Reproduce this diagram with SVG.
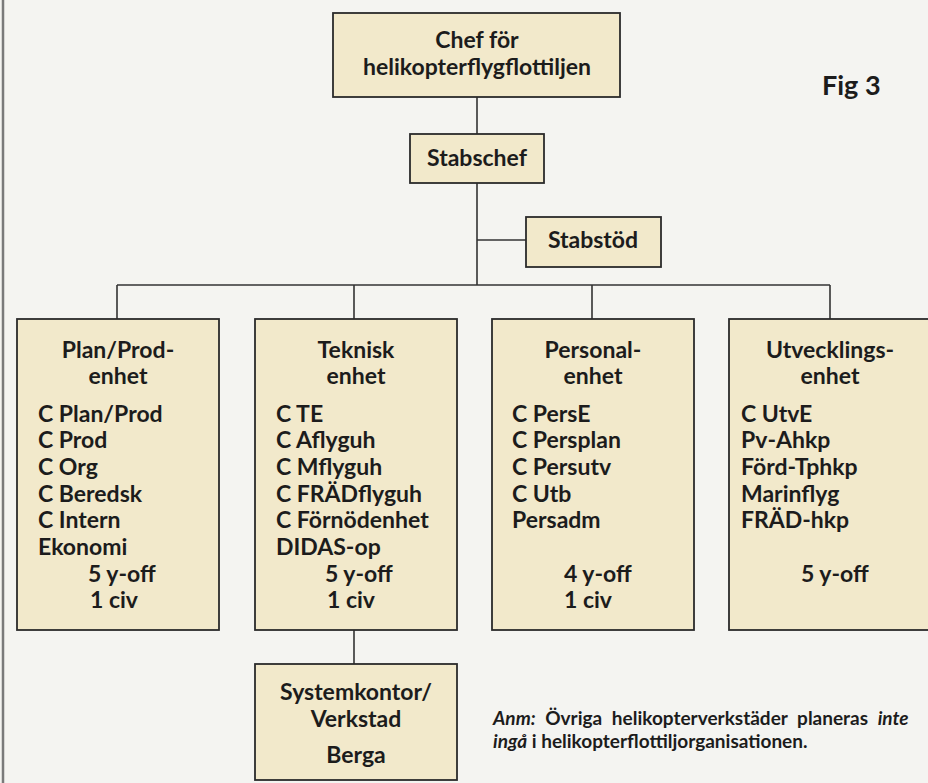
<svg xmlns="http://www.w3.org/2000/svg" width="928" height="783" viewBox="0 0 928 783">
<style>
.box{fill:#f2e9cb;stroke:#2b2b2b;stroke-width:1.8}
.conn line{stroke:#333;stroke-width:1.6}
text{font-family:Lato,"Open Sans","Liberation Sans",sans-serif;font-weight:bold;fill:#1c1c1c}
.t{font-size:23px}
.c{text-anchor:middle}
.big{font-size:23px}
.note{font-size:19px}
</style>
<rect x="0" y="0" width="928" height="783" fill="#f4f4f1"/>
<line x1="3" y1="0" x2="3" y2="783" stroke="#7a7a7a" stroke-width="2.5"/>
<g class="conn" id="connectors">
<line x1="477" y1="97" x2="477" y2="134"/>
<line x1="477" y1="183" x2="477" y2="285"/>
<line x1="477" y1="240" x2="526" y2="240"/>
<line x1="117" y1="285" x2="830" y2="285"/>
<line x1="117" y1="285" x2="117" y2="319"/>
<line x1="354" y1="285" x2="354" y2="319"/>
<line x1="592" y1="285" x2="592" y2="319"/>
<line x1="830" y1="285" x2="830" y2="319"/>
<line x1="354" y1="630" x2="354" y2="664"/>
</g>
<g id="chef">
<rect class="box" x="333" y="13" width="287" height="84"/>
<text class="big c" x="477" y="48">Chef för</text>
<text class="big c" x="477" y="75">helikopterflygflottiljen</text>
</g>
<g id="stabschef">
<rect class="box" x="410" y="134" width="134" height="49"/>
<text class="big c" x="477" y="166">Stabschef</text>
</g>
<g id="stabstod">
<rect class="box" x="526" y="217" width="135" height="50"/>
<text class="big c" x="593" y="248">Stabstöd</text>
</g>
<g id="planprod">
<rect class="box" x="17" y="319" width="202" height="311"/>
<text class="t c" x="118" y="358">Plan/Prod-</text>
<text class="t c" x="118" y="384">enhet</text>
<text class="t" x="38" y="422">C Plan/Prod</text>
<text class="t" x="38" y="448">C Prod</text>
<text class="t" x="38" y="475">C Org</text>
<text class="t" x="38" y="502">C Beredsk</text>
<text class="t" x="38" y="528">C Intern</text>
<text class="t" x="38" y="555">Ekonomi</text>
<text class="t" x="88" y="582">5 y-off</text>
<text class="t" x="90" y="608">1 civ</text>
</g>
<g id="teknisk">
<rect class="box" x="255" y="319" width="202" height="311"/>
<text class="t c" x="356" y="358">Teknisk</text>
<text class="t c" x="356" y="384">enhet</text>
<text class="t" x="276" y="422">C TE</text>
<text class="t" x="276" y="448">C Aflyguh</text>
<text class="t" x="276" y="475">C Mflyguh</text>
<text class="t" x="276" y="502">C FRÄDflyguh</text>
<text class="t" x="276" y="528">C Förnödenhet</text>
<text class="t" x="276" y="555">DIDAS-op</text>
<text class="t" x="325" y="582">5 y-off</text>
<text class="t" x="327" y="608">1 civ</text>
</g>
<g id="personal">
<rect class="box" x="492" y="319" width="202" height="311"/>
<text class="t c" x="593" y="358">Personal-</text>
<text class="t c" x="593" y="384">enhet</text>
<text class="t" x="512" y="422">C PersE</text>
<text class="t" x="512" y="448">C Persplan</text>
<text class="t" x="512" y="475">C Persutv</text>
<text class="t" x="512" y="502">C Utb</text>
<text class="t" x="512" y="528">Persadm</text>
<text class="t" x="564" y="582">4 y-off</text>
<text class="t" x="564" y="608">1 civ</text>
</g>
<g id="utveckling">
<rect class="box" x="729" y="319" width="204" height="311"/>
<text class="t c" x="830" y="358">Utvecklings-</text>
<text class="t c" x="830" y="384">enhet</text>
<text class="t" x="741" y="422">C UtvE</text>
<text class="t" x="741" y="448">Pv-Ahkp</text>
<text class="t" x="741" y="475">Förd-Tphkp</text>
<text class="t" x="741" y="502">Marinflyg</text>
<text class="t" x="741" y="528">FRÄD-hkp</text>
<text class="t" x="801" y="582">5 y-off</text>
</g>
<g id="systemkontor">
<rect class="box" x="255" y="664" width="202" height="116"/>
<text class="t c" x="356" y="700">Systemkontor/</text>
<text class="t c" x="356" y="727">Verkstad</text>
<text class="t c" x="356" y="763">Berga</text>
</g>
<text x="822" y="95" font-size="27">Fig 3</text>
<g class="note">
<text x="493" y="725" word-spacing="5"><tspan font-style="italic">Anm:</tspan> Övriga helikopterverkstäder planeras <tspan font-style="italic">inte</tspan></text>
<text x="493" y="748"><tspan font-style="italic">ingå</tspan> i helikopterflottiljorganisationen.</text>
</g>
</svg>
